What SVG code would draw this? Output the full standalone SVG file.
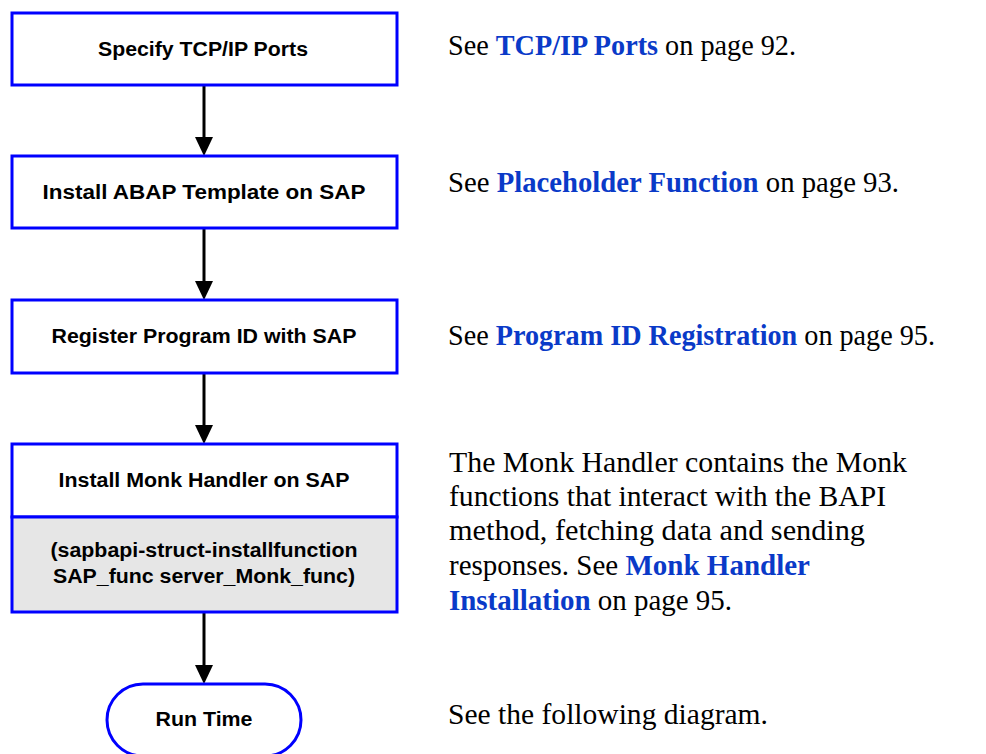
<svg xmlns="http://www.w3.org/2000/svg" width="986" height="754" viewBox="0 0 986 754">
<style>
.box{fill:#ffffff;stroke:#0000ff;stroke-width:3}
.gray{fill:#e6e6e6;stroke:#0000ff;stroke-width:3}
.lbl{font-family:"Liberation Sans",Arial,sans-serif;font-weight:bold;font-size:19.5px;fill:#000;text-anchor:middle}
.conn{stroke:#000;stroke-width:3;fill:none}
.desc{font-family:"Liberation Serif","Times New Roman",serif;font-size:29px;fill:#000}
.link{font-weight:bold;fill:#0a3ac8}
</style>
<defs>
<marker id="arr" viewBox="0 0 19 18" refX="0" refY="9" markerWidth="19" markerHeight="18" markerUnits="userSpaceOnUse" orient="auto">
<path d="M0,0 L19,9 L0,18 z" fill="#000"/>
</marker>
</defs>
<rect width="986" height="754" fill="#fff"/>
<g id="connectors">
<line class="conn" x1="204" y1="86" x2="204" y2="137" marker-end="url(#arr)"/>
<line class="conn" x1="204" y1="229" x2="204" y2="281" marker-end="url(#arr)"/>
<line class="conn" x1="204" y1="374" x2="204" y2="425" marker-end="url(#arr)"/>
<line class="conn" x1="204" y1="613" x2="204" y2="665" marker-end="url(#arr)"/>
</g>
<g id="node-tcpip">
<rect class="box" x="12" y="13" width="385" height="72"/>
<text class="lbl" x="203" y="56" textLength="210" lengthAdjust="spacingAndGlyphs">Specify TCP/IP Ports</text>
</g>
<g id="node-abap">
<rect class="box" x="12" y="156" width="385" height="72"/>
<text class="lbl" x="204" y="199" textLength="323" lengthAdjust="spacingAndGlyphs">Install ABAP Template on SAP</text>
</g>
<g id="node-register">
<rect class="box" x="12" y="300" width="385" height="73"/>
<text class="lbl" x="204" y="343" textLength="305" lengthAdjust="spacingAndGlyphs">Register Program ID with SAP</text>
</g>
<g id="node-monk">
<rect class="box" x="12" y="444" width="385" height="73"/>
<rect class="gray" x="12" y="517" width="385" height="95"/>
<text class="lbl" x="204" y="487" textLength="291" lengthAdjust="spacingAndGlyphs">Install Monk Handler on SAP</text>
<text class="lbl" x="204" y="557" textLength="307" lengthAdjust="spacingAndGlyphs">(sapbapi-struct-installfunction</text>
<text class="lbl" x="204" y="583" textLength="302" lengthAdjust="spacingAndGlyphs">SAP_func server_Monk_func)</text>
</g>
<g id="node-runtime">
<rect class="box" x="107" y="684" width="194" height="72" rx="36" ry="36"/>
<text class="lbl" x="204" y="726" textLength="97" lengthAdjust="spacingAndGlyphs">Run Time</text>
</g>
<g id="descriptions">
<text class="desc" x="448" y="55" textLength="348" lengthAdjust="spacingAndGlyphs">See <tspan class="link">TCP/IP Ports</tspan> on page 92.</text>
<text class="desc" x="448" y="192" textLength="451" lengthAdjust="spacingAndGlyphs">See <tspan class="link">Placeholder Function</tspan> on page 93.</text>
<text class="desc" x="448" y="345" textLength="487" lengthAdjust="spacingAndGlyphs">See <tspan class="link">Program ID Registration</tspan> on page 95.</text>
<text class="desc" x="449" y="472" textLength="458" lengthAdjust="spacingAndGlyphs">The Monk Handler contains the Monk</text>
<text class="desc" x="449" y="506" textLength="437" lengthAdjust="spacingAndGlyphs">functions that interact with the BAPI</text>
<text class="desc" x="449" y="540" textLength="416" lengthAdjust="spacingAndGlyphs">method, fetching data and sending</text>
<text class="desc" x="449" y="575" textLength="361" lengthAdjust="spacingAndGlyphs">responses. See <tspan class="link">Monk Handler</tspan></text>
<text class="desc" x="449" y="610" textLength="283" lengthAdjust="spacingAndGlyphs"><tspan class="link">Installation</tspan> on page 95.</text>
<text class="desc" x="448" y="724" textLength="320" lengthAdjust="spacingAndGlyphs">See the following diagram.</text>
</g>
</svg>
